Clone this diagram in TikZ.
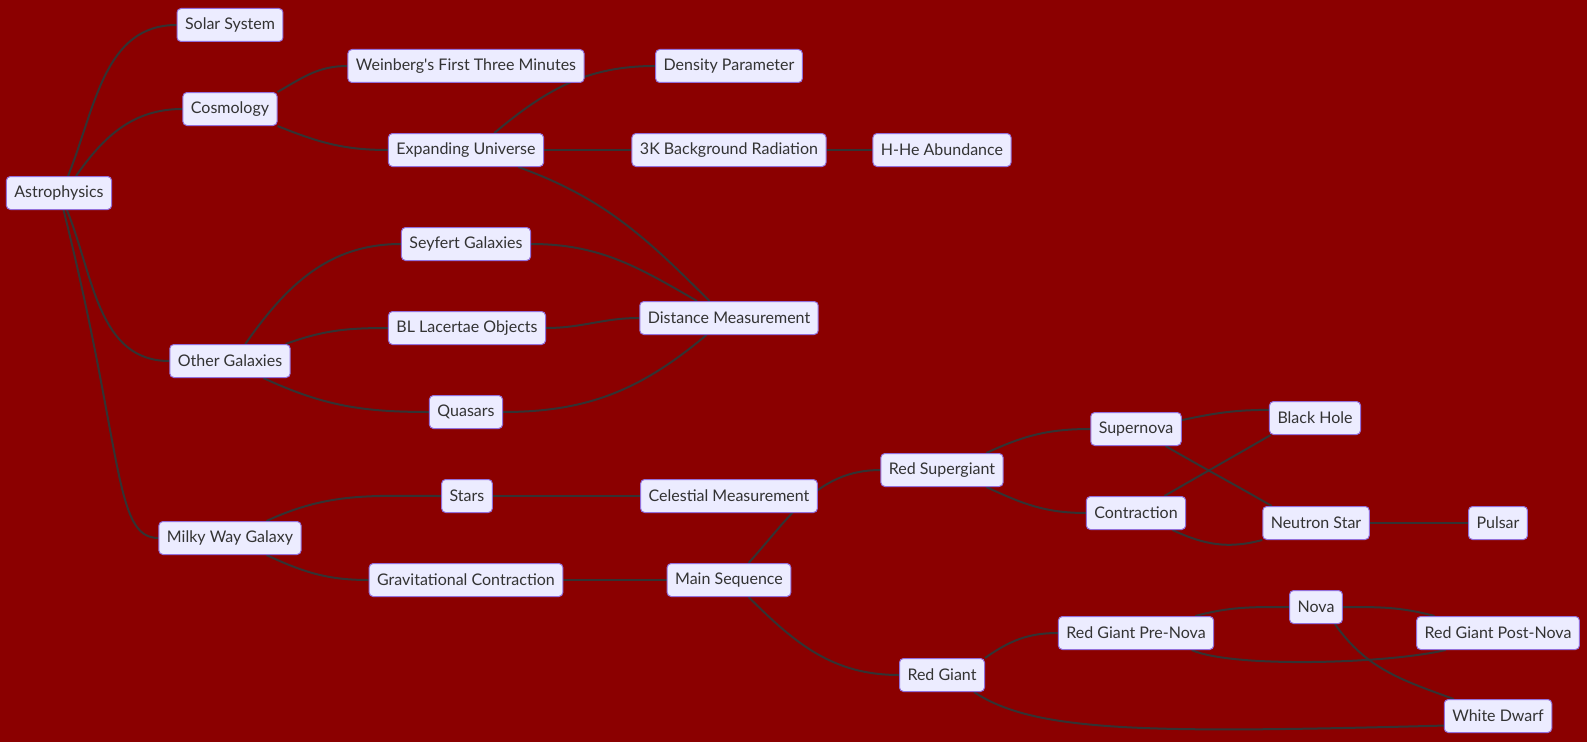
\documentclass[tikz,border=0pt]{standalone}
\usepackage{fontspec}
\setmainfont{Lato}
\definecolor{bgred}{HTML}{8B0000}
\definecolor{boxfill}{HTML}{ECECFF}
\definecolor{boxline}{HTML}{9370DB}
\definecolor{ink}{HTML}{333333}
\pgfdeclarelayer{back}
\pgfdeclarelayer{links}
\pgfsetlayers{back,links,main}
\begin{document}
\begin{tikzpicture}[x=0.75pt,y=0.75pt,
  box/.style={draw=boxline,fill=boxfill,line width=0.75pt,rounded corners=3pt,
    text=ink,font=\fontsize{12}{14}\selectfont,minimum height=24.75pt,inner xsep=6pt,inner ysep=0pt},
  link/.style={draw=ink,line width=1.5pt}]
\begin{pgfonlayer}{back}
\fill [bgred] (0,0) rectangle (1587,-742);
\end{pgfonlayer}
\useasboundingbox (0,0) rectangle (1587,-742);
\node [box] (astro) at (59,-193) {Astrophysics};
\node [box] (solar) at (230,-25) {Solar System};
\node [box] (cosmo) at (230,-109) {Cosmology};
\node [box] (weinberg) at (466,-66) {Weinberg\textquotesingle s First Three Minutes};
\node [box] (expand) at (466,-150) {Expanding Universe};
\node [box] (density) at (729,-66) {Density Parameter};
\node [box] (threek) at (729,-150) {3K Background Radiation};
\node [box] (hhe) at (942,-150) {H-He Abundance};
\node [box] (seyfert) at (466,-244) {Seyfert Galaxies};
\node [box] (bllac) at (467,-328) {BL Lacertae Objects};
\node [box] (distance) at (729,-318) {Distance Measurement};
\node [box] (other) at (230,-361) {Other Galaxies};
\node [box] (quasars) at (466,-412) {Quasars};
\node [box] (stars) at (467,-496) {Stars};
\node [box] (celestial) at (729,-496) {Celestial Measurement};
\node [box] (milky) at (230,-538) {Milky Way Galaxy};
\node [box] (grav) at (466,-580) {Gravitational Contraction};
\node [box] (mainseq) at (729,-580) {Main Sequence};
\node [box] (redsuper) at (942,-470) {Red Supergiant};
\node [box] (redgiant) at (942,-675) {Red Giant};
\node [box] (supernova) at (1136,-429) {Supernova};
\node [box] (contraction) at (1136,-513) {Contraction};
\node [box] (blackhole) at (1315,-418) {Black Hole};
\node [box] (neutron) at (1316,-523) {Neutron Star};
\node [box] (pulsar) at (1498,-523) {Pulsar};
\node [box] (prenova) at (1136,-633) {Red Giant Pre-Nova};
\node [box] (nova) at (1316,-607) {Nova};
\node [box] (postnova) at (1498,-633) {Red Giant Post-Nova};
\node [box] (whitedwarf) at (1498,-716) {White Dwarf};
\begin{pgfonlayer}{links}
\draw [link] (astro.62) to[out=68,in=180] (solar.west);
\draw [link] (astro.45) to[out=55,in=180] (cosmo.west);
\draw [link] (astro.-65) to[out=-68,in=180] (other.west);
\draw [link] (astro.-75) .. controls +(-76:250) and +(-45,0) .. (milky.west);
\draw [link] (cosmo.north east) to[out=30,in=180] (weinberg.west);
\draw [link] (cosmo.south east) to[out=-22,in=180] (expand.west);
\draw [link] (expand.31) to[out=40,in=180] (density.west);
\draw [link] (expand.east) -- (threek.west);
\draw [link] (threek.east) -- (hhe.west);
\draw [link] (expand.-18) to[out=-20,in=135] (distance.139);
\draw [link] (other.48) to[out=55,in=180] (seyfert.west);
\draw [link] (other.17) to[out=20,in=180] (bllac.west);
\draw [link] (other.-27) to[out=-25,in=180] (quasars.west);
\draw [link] (seyfert.east) to[out=0,in=150] (distance.152);
\draw [link] (bllac.east) to[out=0,in=180] (distance.west);
\draw [link] (quasars.east) to[out=0,in=-140] (distance.-143);
\draw [link] (milky.25) to[out=25,in=180] (stars.west);
\draw [link] (milky.-25) to[out=-25,in=180] (grav.west);
\draw [link] (stars.east) -- (celestial.west);
\draw [link] (grav.east) -- (mainseq.west);
\draw [link] (mainseq.41) to[out=48,in=180] (redsuper.west);
\draw [link] (mainseq.-41) to[out=-45,in=180] (redgiant.west);
\draw [link] (redsuper.21) to[out=25,in=180] (supernova.west);
\draw [link] (redsuper.-21) to[out=-25,in=180] (contraction.west);
\draw [link] (supernova.11) to[out=12,in=180] (blackhole.170);
\draw [link] (supernova.-30) to[out=-30,in=150] (neutron.159);
\draw [link] (contraction.31) to[out=30,in=-150] (blackhole.201);
\draw [link] (contraction.-25) to[out=-25,in=-165] (neutron.south west);
\draw [link] (neutron.east) -- (pulsar.west);
\draw [link] (redgiant.north east) to[out=35,in=180] (prenova.west);
\draw [link] (redgiant.-28) .. controls +(60,-40) and +(-300,-8) .. (whitedwarf.190);
\draw [link] (prenova.16) to[out=15,in=180] (nova.west);
\draw [link] (prenova.-17) .. controls +(40,-18) and +(-60,-14) .. (postnova.198);
\draw [link] (nova.east) to[out=0,in=165] (postnova.165);
\draw [link] (nova.-42) to[out=-55,in=160] (whitedwarf.159);
\end{pgfonlayer}
\end{tikzpicture}
\end{document}
